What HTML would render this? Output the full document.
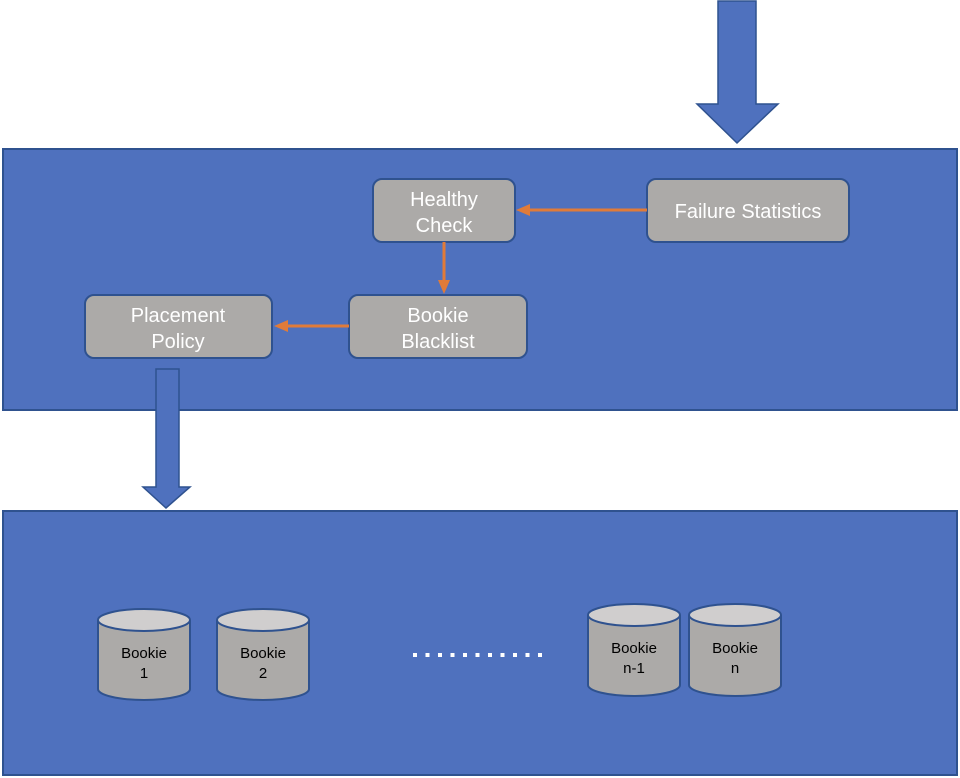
<!DOCTYPE html>
<html><head><style>body{margin:0;background:#fff}svg{display:block}</style></head><body>
<svg width="960" height="778" viewBox="0 0 960 778" xmlns="http://www.w3.org/2000/svg" font-family="Liberation Sans, Arial, sans-serif">
<rect x="3" y="149" width="954" height="261" fill="#4f71be" stroke="#2f528f" stroke-width="2"/>
<rect x="3" y="511" width="954" height="264" fill="#4f71be" stroke="#2f528f" stroke-width="2"/>
<polygon points="718,1 756,1 756,104 778,104 737,143 697,104 718,104" fill="#4f71be" stroke="#2f528f" stroke-width="1.5"/>
<polygon points="156,369 179,369 179,487 190,487 166,508 143,487 156,487" fill="#4f71be" stroke="#2f528f" stroke-width="1.5"/>
<g fill="#acaaa8" stroke="#2f528f" stroke-width="2">
<rect x="647" y="179" width="202" height="63" rx="9"/>
<rect x="373" y="179" width="142" height="63" rx="9"/>
<rect x="349" y="295" width="178" height="63" rx="9"/>
<rect x="85" y="295" width="187" height="63" rx="9"/>
</g>
<g stroke="#e07b39" stroke-width="3" fill="#e07b39">
<line x1="647" y1="210" x2="528" y2="210"/><polygon points="516,210 530,204 530,216" stroke="none"/>
<line x1="444" y1="242" x2="444" y2="282"/><polygon points="444,294 438,280 450,280" stroke="none"/>
<line x1="349" y1="326" x2="286" y2="326"/><polygon points="274,326 288,320 288,332" stroke="none"/>
</g>
<g fill="#fff" font-size="20" text-anchor="middle">
<text x="748" y="218">Failure Statistics</text>
<text x="444" y="206">Healthy</text><text x="444" y="232">Check</text>
<text x="438" y="322">Bookie</text><text x="438" y="348">Blacklist</text>
<text x="178" y="322">Placement</text><text x="178" y="348">Policy</text>
</g>
<g stroke="#2f528f" stroke-width="2">
<path d="M98,620 V689 A46,11 0 0 0 190,689 V620" fill="#acaaa8"/><ellipse cx="144" cy="620" rx="46" ry="11" fill="#d0cece"/>
<path d="M217,620 V689 A46,11 0 0 0 309,689 V620" fill="#acaaa8"/><ellipse cx="263" cy="620" rx="46" ry="11" fill="#d0cece"/>
<path d="M588,615 V685 A46,11 0 0 0 680,685 V615" fill="#acaaa8"/><ellipse cx="634" cy="615" rx="46" ry="11" fill="#d0cece"/>
<path d="M689,615 V685 A46,11 0 0 0 781,685 V615" fill="#acaaa8"/><ellipse cx="735" cy="615" rx="46" ry="11" fill="#d0cece"/>
</g>
<g fill="#000" font-size="15" text-anchor="middle">
<text x="144" y="658">Bookie</text><text x="144" y="678">1</text>
<text x="263" y="658">Bookie</text><text x="263" y="678">2</text>
<text x="634" y="653">Bookie</text><text x="634" y="673">n-1</text>
<text x="735" y="653">Bookie</text><text x="735" y="673">n</text>
</g>
<line x1="413" y1="655" x2="550" y2="655" stroke="#fff" stroke-width="4" stroke-dasharray="4,8.5"/>
</svg>
</body></html>
